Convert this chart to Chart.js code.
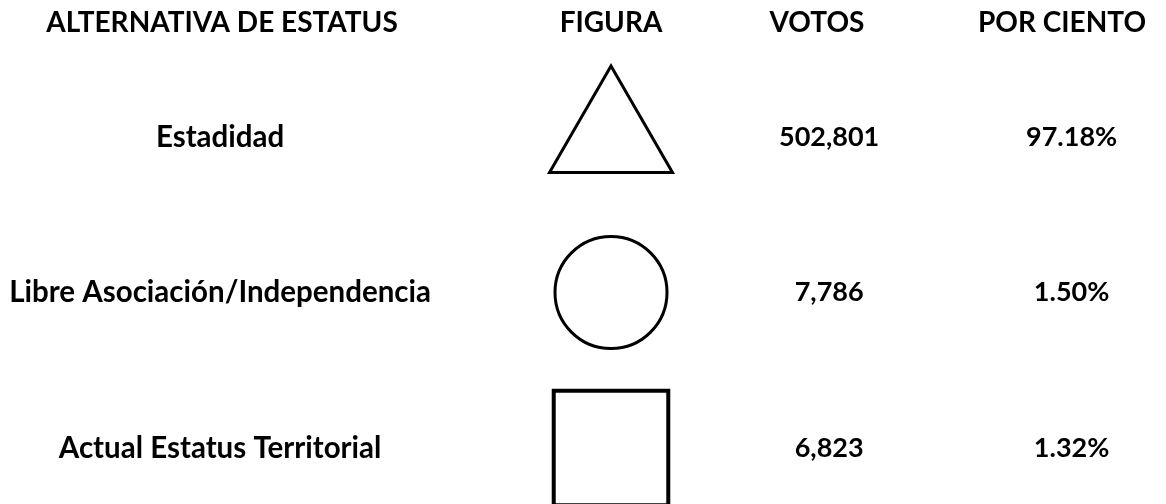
<!DOCTYPE html>
<html>
<head>
<meta charset="utf-8">
<script src="https://cdn.jsdelivr.net/npm/chart.js@4"></script>
<style>
    html, body { margin: 0; padding: 0; background: #fff; }
    canvas { display: block; }
</style>
</head>
<body>
<canvas id="statusChart" width="1166" height="504"></canvas>
<script>
// data
const encabezados = ['ALTERNATIVA DE ESTATUS', 'FIGURA', 'VOTOS', 'POR CIENTO'];
const alternativas = ['Estadidad', 'Libre Asociación/Independencia', 'Actual Estatus Territorial'];
const figuras = ['triangle', 'circle', 'rect'];
const votos = [502801, 7786, 6823];
const porCiento = [97.18, 1.50, 1.32];

// layout / style
const FONT = 'Lato';
const headerSize = 28;
const rowSize = 29.5;
const numberSize = 27;
const headerX = [222, 611, 817, 1062];
const headerBaseline = 32;
const figureRadius = [71, 56, 81];
const figureBorder = [3, 3, 4];

const headerPlugin = {
    id: 'headerRow',
    afterDraw(chart) {
        const ctx = chart.ctx;
        ctx.save();
        ctx.fillStyle = '#000';
        ctx.font = `bold ${headerSize}px ${FONT}`;
        ctx.textAlign = 'center';
        ctx.textBaseline = 'alphabetic';
        encabezados.forEach((h, i) => ctx.fillText(h, headerX[i], headerBaseline));
        ctx.restore();
    }
};

function fixWidth(w) {
    return function(scale) { scale.width = w; };
}

function renderChart() {
    const ctx = document.getElementById('statusChart').getContext('2d');

    new Chart(ctx, {
        type: 'scatter',
        data: {
            datasets: [{
                data: alternativas.map(a => ({ x: 'FIGURA', y: a })),
                pointStyle: figuras,
                pointRadius: figureRadius,
                pointHoverRadius: figureRadius,
                pointBorderWidth: figureBorder,
                borderColor: '#000',
                backgroundColor: 'rgba(0,0,0,0)',
                clip: false
            }]
        },
        plugins: [headerPlugin],
        options: {
            responsive: false,
            devicePixelRatio: 1,
            animation: false,
            events: [],
            layout: {
                autoPadding: false,
                padding: { top: 137, bottom: 56, left: 0, right: 41 }
            },
            plugins: {
                legend: { display: false },
                tooltip: { enabled: false }
            },
            scales: {
                x: {
                    type: 'category',
                    labels: ['FIGURA'],
                    offset: true,
                    display: false
                },
                y: {
                    type: 'category',
                    position: 'left',
                    labels: alternativas,
                    offset: false,
                    grid: { display: false, drawTicks: false },
                    border: { display: false },
                    afterFit: fixWidth(444),
                    ticks: {
                        color: '#000',
                        font: { family: FONT, size: rowSize, weight: 'bold' },
                        crossAlign: 'center',
                        padding: 13,
                        autoSkip: false
                    }
                },
                votos: {
                    type: 'category',
                    position: 'right',
                    weight: 1,
                    labels: alternativas,
                    offset: false,
                    grid: { display: false, drawTicks: false },
                    border: { display: false },
                    afterFit: fixWidth(247),
                    ticks: {
                        color: '#000',
                        font: { family: FONT, size: numberSize, weight: 'bold' },
                        crossAlign: 'center',
                        padding: 1,
                        autoSkip: false,
                        callback: function(value, index) {
                            return votos[index].toLocaleString('en-US');
                        }
                    }
                },
                porCiento: {
                    type: 'category',
                    position: 'right',
                    weight: 2,
                    labels: alternativas,
                    offset: false,
                    grid: { display: false, drawTicks: false },
                    border: { display: false },
                    afterFit: fixWidth(100),
                    ticks: {
                        color: '#000',
                        font: { family: FONT, size: numberSize, weight: 'bold' },
                        crossAlign: 'center',
                        padding: 1,
                        autoSkip: false,
                        callback: function(value, index) {
                            return porCiento[index].toFixed(2) + '%';
                        }
                    }
                }
            }
        }
    });
}

document.addEventListener('DOMContentLoaded', renderChart);
</script>
</body>
</html>
